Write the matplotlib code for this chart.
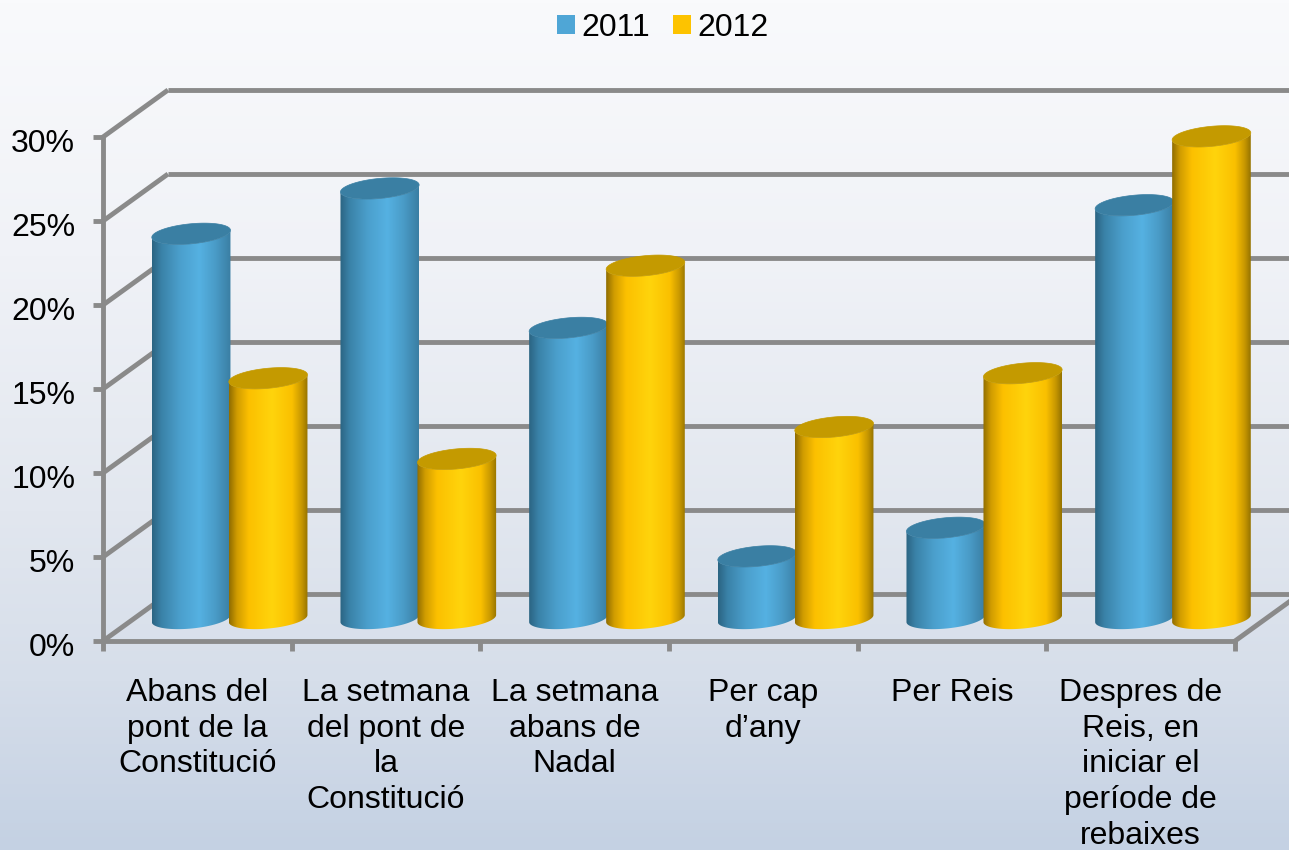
import matplotlib
matplotlib.use("Agg")
import matplotlib.pyplot as plt
import numpy as np
from matplotlib.colors import LinearSegmentedColormap
from matplotlib.patches import Patch, PathPatch
from matplotlib.path import Path
from matplotlib.transforms import ScaledTranslation

categories = ["Abans del\npont de la\nConstitució",
              "La setmana\ndel pont de\nla\nConstitució",
              "La setmana\nabans de\nNadal",
              "Per cap\nd’any",
              "Per Reis",
              "Despres de\nReis, en\niniciar el\nperíode de\nrebaixes"]
series_names = ["2011", "2012"]
values_2011 = [22.9, 25.6, 17.3, 3.7, 5.4, 24.6]
values_2012 = [14.3, 9.5, 21.0, 11.4, 14.6, 28.7]
y_ticks = [0, 5, 10, 15, 20, 25, 30]

W, H = 1289, 850
LEFT, RIGHT, BASE, TOP = 103, 1235, 641, 137
PX_X = (RIGHT - LEFT) / 6
PX_Y = (BASE - TOP) / 30
GREY = "#8a8a8a"
LINE = 3.5

# 3d look: offsets of the back wall and of the bars, in data units
BACK_X, BACK_Y = 65 / PX_X, 47 / PX_Y
MID_X, MID_Y = 32.3 / PX_X, 22.5 / PX_Y
BAR_OFF = 38.5 / PX_X
RX, RY = 39.5 / PX_X, 10 / PX_Y
TILT = np.radians(5.5)

blue_cmap = LinearSegmentedColormap.from_list("b", [
    (0, "#2b6482"), (0.12, "#3a82a8"), (0.35, "#4b9fcc"), (0.6, "#55b1e2"),
    (0.8, "#4a9cc8"), (1, "#3a7ea3")])
gold_cmap = LinearSegmentedColormap.from_list("y", [
    (0, "#8f6c00"), (0.1, "#d09c00"), (0.25, "#fcc000"), (0.55, "#ffd40c"),
    (0.8, "#fac000"), (0.92, "#c89800"), (1, "#957300")])
top_colors = ["#3a7fa3", "#c49a00"]
flat_colors = ["#4fa6d6", "#fdc300"]


def ellipse_pts(cx, cy, t):
    # tilted ellipse, worked out in pixels because the axes are not square
    ex = 39.5 * np.cos(t)
    ey = 10 * np.sin(t)
    px = ex * np.cos(TILT) - ey * np.sin(TILT)
    py = ex * np.sin(TILT) + ey * np.cos(TILT)
    return cx + px / PX_X, cy + py / PX_Y


def draw_cylinder(ax, x, v, cmap, top_color, z):
    y0 = MID_Y
    y1 = MID_Y + v
    low = np.linspace(np.pi, 2 * np.pi, 60)
    bx, by = ellipse_pts(x, y0, low)
    tx, ty = ellipse_pts(x, y1, low[::-1])
    verts = np.column_stack([np.r_[bx, tx], np.r_[by, ty]])
    body = PathPatch(Path(np.vstack([verts, verts[0]])), transform=ax.transData,
                     facecolor="none", edgecolor="none", clip_on=False)
    ax.add_patch(body)
    grad = np.linspace(0, 1, 256).reshape(1, -1)
    im = ax.imshow(grad, cmap=cmap, aspect="auto", zorder=z,
                   extent=[x - RX, x + RX, y0 - RY * 1.5, y1 + RY * 1.5])
    im.set_clip_path(body)
    im.set_clip_box(fig.bbox)
    cap = np.linspace(0, 2 * np.pi, 120)
    cx, cy = ellipse_pts(x, y1, cap)
    ax.fill(cx, cy, color=top_color, lw=0.5, zorder=z + 0.1, clip_on=False)


fig = plt.figure(figsize=(W / 100, H / 100), dpi=100)
plt.rcParams["font.family"] = ["Liberation Sans", "DejaVu Sans"]

# background gradient
bg = fig.add_axes([0, 0, 1, 1], zorder=0)
bg_cmap = LinearSegmentedColormap.from_list("bg", [
    (0, "#f9fafc"), (0.3, "#f0f2f7"), (0.6, "#e2e7ef"), (0.8, "#d6deea"), (1, "#c4d1e3")])
bg.imshow(np.linspace(0, 1, 256).reshape(-1, 1), cmap=bg_cmap, aspect="auto")
bg.axis("off")

ax = fig.add_axes([LEFT / W, (H - BASE) / H, (RIGHT - LEFT) / W, (BASE - TOP) / H], zorder=1)
ax.patch.set_alpha(0)

# back wall and side wall lines
for t in y_ticks:
    ax.plot([0, BACK_X], [t, t + BACK_Y], color=GREY, lw=LINE, clip_on=False,
            zorder=1, solid_capstyle="butt")
    ax.plot([BACK_X, 6.32], [t + BACK_Y, t + BACK_Y], color=GREY, lw=LINE, clip_on=False,
            zorder=1, solid_capstyle="butt")
ax.plot([6, 6 + BACK_X], [0, BACK_Y], color=GREY, lw=LINE, clip_on=False, zorder=1)

# bars
for i in range(len(categories)):
    x = i + 0.5 + MID_X
    draw_cylinder(ax, x - BAR_OFF, values_2011[i], blue_cmap, top_colors[0], 3 + i)
    draw_cylinder(ax, x + BAR_OFF, values_2012[i], gold_cmap, top_colors[1], 3.5 + i)

ax.set_xlim(0, 6)
ax.set_ylim(0, 30)
for s in ["top", "right"]:
    ax.spines[s].set_visible(False)
for s in ["left", "bottom"]:
    ax.spines[s].set_color(GREY)
    ax.spines[s].set_linewidth(LINE)
    ax.spines[s].set_zorder(2)

ax.set_yticks(y_ticks)
ax.set_yticklabels([f"{t}%" for t in y_ticks], va="center")
ax.tick_params(axis="y", length=7, width=LINE, color=GREY, labelsize=23, pad=13)
shift = ScaledTranslation(0, -7 / 100, fig.dpi_scale_trans)
for lab in ax.get_yticklabels():
    lab.set_transform(lab.get_transform() + shift)
ax.set_xticks(range(7))
ax.set_xticklabels([""] * 7)
ax.set_xticks(np.arange(6) + 0.5, categories, minor=True, linespacing=1.25)
ax.tick_params(axis="x", which="major", length=7, width=LINE, color=GREY)
ax.tick_params(axis="x", which="minor", length=0, labelsize=23, pad=26.5)

handles = [Patch(color=c, lw=0) for c in flat_colors]
fig.legend(handles, series_names, ncol=2, frameon=False, fontsize=23,
           loc="center", bbox_to_anchor=(663 / W, 1 - 28 / H),
           handlelength=0.55, handleheight=0.55, handletextpad=0.22, columnspacing=0.7)

fig.savefig("out.png", dpi=100)
plt.close(fig)
